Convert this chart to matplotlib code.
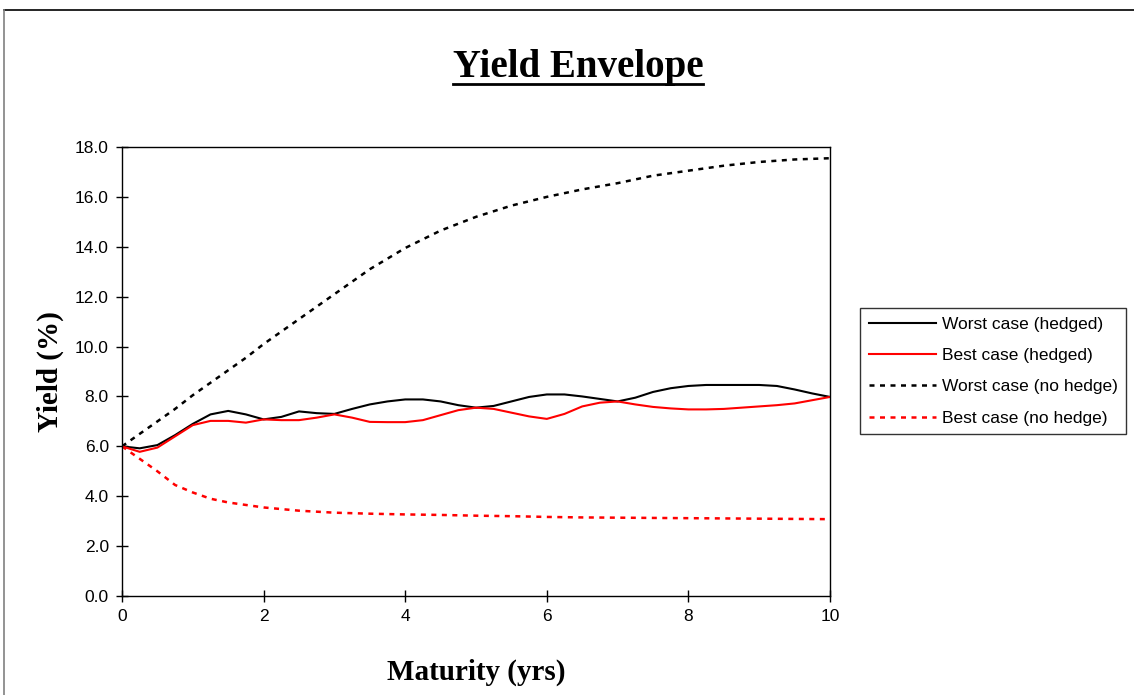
import matplotlib
matplotlib.use("Agg")
import matplotlib.pyplot as plt
from matplotlib.lines import Line2D
from matplotlib.ticker import FormatStrFormatter

# maturity grid (years) for the hedged series
t_hedged = [0.0, 0.25, 0.5, 0.75, 1.0, 1.25, 1.5, 1.75, 2.0, 2.25, 2.5, 2.75,
            3.0, 3.25, 3.5, 3.75, 4.0, 4.25, 4.5, 4.75, 5.0, 5.25, 5.5, 5.75,
            6.0, 6.25, 6.5, 6.75, 7.0, 7.25, 7.5, 7.75, 8.0, 8.25, 8.5, 8.75,
            9.0, 9.25, 9.5, 9.75, 10.0]

worst_hedged = [6.00, 5.92, 6.05, 6.45, 6.90, 7.28, 7.42, 7.28, 7.08, 7.18, 7.40, 7.33,
                7.30, 7.50, 7.68, 7.80, 7.88, 7.88, 7.80, 7.65, 7.55, 7.62, 7.80, 7.98,
                8.08, 8.08, 8.00, 7.90, 7.80, 7.95, 8.18, 8.33, 8.42, 8.46, 8.46, 8.46,
                8.46, 8.42, 8.28, 8.12, 7.98]

best_hedged = [6.00, 5.78, 5.95, 6.40, 6.85, 7.02, 7.02, 6.95, 7.08, 7.05, 7.05, 7.15,
               7.28, 7.15, 6.98, 6.97, 6.97, 7.05, 7.25, 7.45, 7.55, 7.50, 7.35, 7.20,
               7.10, 7.30, 7.60, 7.75, 7.80, 7.68, 7.58, 7.52, 7.48, 7.48, 7.50, 7.55,
               7.60, 7.65, 7.72, 7.85, 7.98]

# maturity grid for the unhedged series
t_nohedge = [0.0, 0.25, 0.5, 0.75, 1.0, 1.25, 1.5, 1.75, 2.0, 2.5, 3.0, 3.5, 4.0,
             4.5, 5.0, 5.5, 6.0, 6.5, 7.0, 7.5, 8.0, 8.5, 9.0, 9.5, 10.0]

worst_nohedge = [6.00, 6.50, 7.00, 7.50, 8.05, 8.55, 9.05, 9.55, 10.10, 11.10, 12.10,
                 13.10, 13.95, 14.65, 15.20, 15.65, 16.00, 16.30, 16.55, 16.85, 17.05,
                 17.25, 17.40, 17.50, 17.55]

best_nohedge = [6.00, 5.50, 5.00, 4.45, 4.15, 3.90, 3.75, 3.65, 3.55, 3.42, 3.34,
                3.30, 3.27, 3.25, 3.22, 3.20, 3.17, 3.15, 3.14, 3.13, 3.12, 3.11,
                3.10, 3.09, 3.08]

labels = ["Worst case (hedged)", "Best case (hedged)",
          "Worst case (no hedge)", "Best case (no hedge)"]

W, H = 1134, 695
fig = plt.figure(figsize=(W / 100, H / 100), dpi=100)
ax = fig.add_axes([122 / W, 1 - 596 / H, (830 - 122) / W, (596 - 147) / H])

dash = (0, (2, 2.2))
ax.plot(t_hedged, worst_hedged, color="black", lw=1.5, label=labels[0])
ax.plot(t_hedged, best_hedged, color="#ff0000", lw=1.5, label=labels[1])
ax.plot(t_nohedge, worst_nohedge, color="black", lw=1.8, linestyle=dash, label=labels[2])
ax.plot(t_nohedge, best_nohedge, color="#ff0000", lw=1.8, linestyle=dash, label=labels[3])

ax.set_xlim(0, 10)
ax.set_ylim(0, 18)
ax.set_xticks(range(0, 11, 2))
ax.set_yticks(range(0, 19, 2))
ax.yaxis.set_major_formatter(FormatStrFormatter("%.1f"))
ax.tick_params(direction="inout", length=9, width=1, labelsize=12.5, pad=5)
for lbl in ax.get_xticklabels() + ax.get_yticklabels():
    lbl.set_fontfamily("Liberation Sans")
for sp in ax.spines.values():
    sp.set_linewidth(1)
    sp.set_color("black")

serif = "Liberation Serif"
ax.set_xlabel("Maturity (yrs)", fontsize=21, fontweight="bold", family=serif, labelpad=25)
ax.set_ylabel("Yield (%)", fontsize=21, fontweight="bold", family=serif, labelpad=8)

leg = fig.legend(loc="upper left", bbox_to_anchor=(860 / W, 1 - 308 / H),
                 prop={"family": "Liberation Sans", "size": 12.5},
                 frameon=True, fancybox=False, shadow=False, borderpad=0.5,
                 labelspacing=0.93, handlelength=3.9, handletextpad=0.3,
                 borderaxespad=0)
leg.get_frame().set_edgecolor("black")
leg.get_frame().set_linewidth(1)

title = fig.text(578 / W, 1 - 68 / H, "Yield Envelope", ha="center", va="center",
                 fontsize=28, fontweight="bold", family=serif)

# underline for the title
fig.canvas.draw()
bb = title.get_window_extent().transformed(fig.transFigure.inverted())
uy = bb.y0 + 0.003
fig.add_artist(Line2D([bb.x0, bb.x1], [uy, uy], color="black", lw=2,
                      transform=fig.transFigure))

# chart-area border (clipped at the right and bottom)
fig.add_artist(Line2D([4 / W, 1.0], [1 - 10 / H, 1 - 10 / H], color="black", lw=1.2,
                      transform=fig.transFigure))
fig.add_artist(Line2D([4 / W, 4 / W], [0.0, 1 - 10 / H], color="#808080", lw=1.2,
                      transform=fig.transFigure))

fig.savefig("out.png", dpi=100)
